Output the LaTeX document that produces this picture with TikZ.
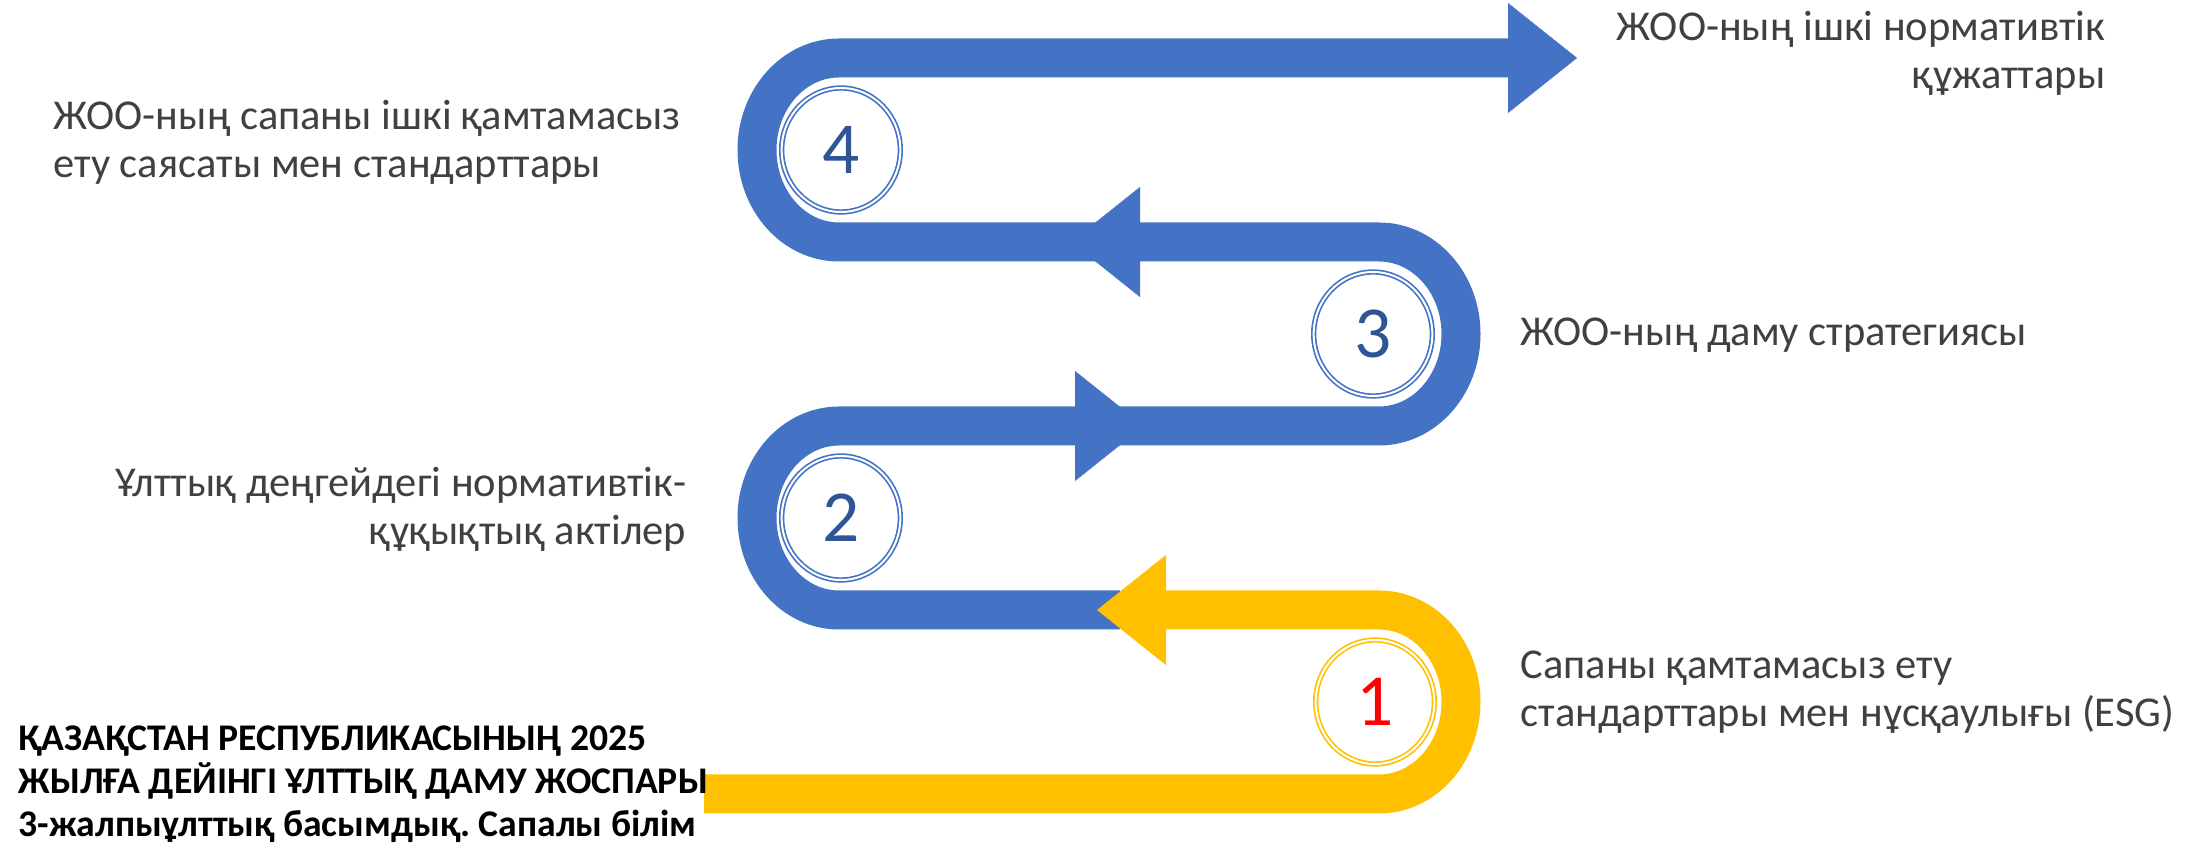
\documentclass[tikz,border=0pt]{standalone}
\usepackage{fontspec}
\setmainfont{Carlito}
\usepackage{tikz}
\usetikzlibrary{arrows.meta,shapes.geometric}
\definecolor{snakeblue}{HTML}{4472C4}
\definecolor{snakegold}{HTML}{FFC000}
\definecolor{numblue}{HTML}{2F5597}
\definecolor{textgray}{HTML}{404040}
\frenchspacing

\begin{document}
\begin{tikzpicture}[x=0.3pt,y=-0.3pt]
\useasboundingbox (0,0) rectangle (2201,846);

% turning points of the band
\coordinate (ystart) at (704,794);
\coordinate (yturn)  at (1379,794);
\coordinate (ytip)   at (1097,610);
\coordinate (bstart) at (1120,610);
\coordinate (bturnA) at (839,610);
\coordinate (btipA)  at (1144,426);
\coordinate (bbackA) at (1075,426);
\coordinate (bturnB) at (1379,426);
\coordinate (btipB)  at (1071,242);
\coordinate (bbackB) at (1139,242);
\coordinate (bturnC) at (839,242);
\coordinate (btipC)  at (1577,58);

\begin{scope}[>={Triangle[length=20.7pt,width=33pt,line width=0.1pt]},
              every path/.style={line width=11.7pt}]
    \draw [->,snakeblue] (bstart) -- (bturnA) arc[start angle=90,end angle=270,x radius=82,y radius=92] -- (btipA);
    \draw [->,snakeblue] (bbackA) -- (bturnB) arc[start angle=90,end angle=-90,x radius=82,y radius=92] -- (btipB);
    \draw [->,snakeblue] (bbackB) -- (bturnC) arc[start angle=90,end angle=270,x radius=82,y radius=92] -- (btipC);
    \draw [->,snakegold] (ystart) -- (yturn) arc[start angle=90,end angle=-90,x radius=82,y radius=92] -- (ytip);
\end{scope}

\begin{scope}[every node/.style={ellipse,draw=snakeblue,double=white,line width=0.5pt,double distance=0.6pt,
                                 minimum width=35.6pt,minimum height=37.2pt,inner sep=0pt,
                                 font=\fontsize{22}{22}\selectfont,text=numblue}]
    \node (n4) at (841,150) {4};
    \node (n3) at (1373,334) {3};
    \node (n2) at (841,518) {2};
    \node[draw=snakegold,text=red] (n1) at (1375,702) {1};
\end{scope}

\begin{scope}[every node/.style={font=\fontsize{12.75}{14.4}\selectfont,text=textgray,inner sep=0pt}]
    \node[anchor=base east,align=right] (internal) at (2106,89) {ЖОО-ның ішкі нормативтік\\құжаттары};
    \node[anchor=base west,align=left] (strategy) at (1520,346) {ЖОО-ның даму стратегиясы};
    \node[anchor=base west,align=left] (esg) at (1520,727) {Сапаны қамтамасыз ету\\стандарттары мен нұсқаулығы (ESG)};
    \node[anchor=base west,align=left] (policy) at (53,178) {ЖОО-ның сапаны ішкі қамтамасыз\\ету саясаты мен стандарттары};
    \node[anchor=base east,align=right] (national) at (687,545) {Ұлттық деңгейдегі нормативтік-\\құқықтық актілер};
\end{scope}

\node[anchor=base west,align=left,inner sep=0pt,font=\bfseries\fontsize{11.3}{12.9}\selectfont] (plan) at (18,837)
    {ҚАЗАҚСТАН РЕСПУБЛИКАСЫНЫҢ 2025\\ЖЫЛҒА ДЕЙІНГІ ҰЛТТЫҚ ДАМУ ЖОСПАРЫ\\3-жалпыұлттық басымдық. Сапалы білім};

\end{tikzpicture}
\end{document}
